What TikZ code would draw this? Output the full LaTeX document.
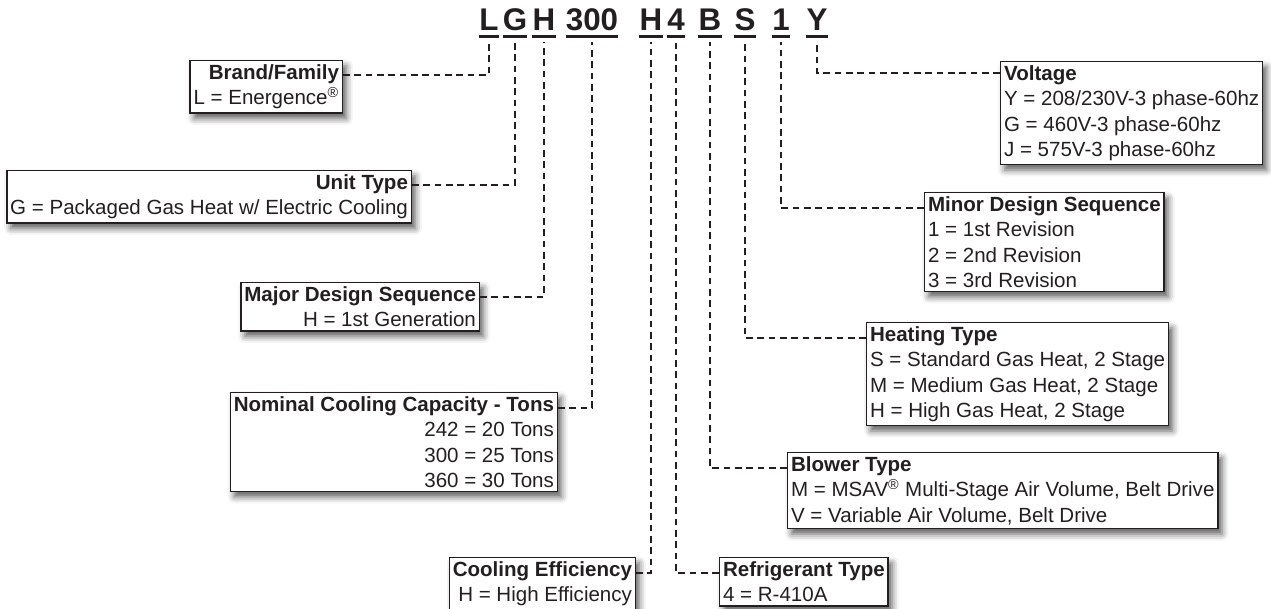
\documentclass[tikz,border=0pt]{standalone}
\usepackage{fontspec}
\setmainfont{Liberation Sans}
\usetikzlibrary{shadows.blur}
\definecolor{inkgray}{HTML}{231F20}
\tikzset{
	codechar/.style={font=\fontsize{23.5}{23.5}\selectfont\bfseries, text=inkgray, inner xsep=0pt, inner ysep=0pt, text depth=0pt, anchor=base},
	uline/.style={draw=inkgray, line width=2.2pt},
	infobox/.style={draw=inkgray, line width=1.1pt, fill=white, text=inkgray, font=\fontsize{15.4}{18.9}\selectfont, inner xsep=2.5pt, inner ysep=3pt,
		blur shadow={shadow xshift=3pt, shadow yshift=-4pt, shadow blur radius=5pt, shadow opacity=65}},
	leftbox/.style={infobox, align=right, anchor=north east},
	rightbox/.style={infobox, align=left, anchor=north west},
	dashline/.style={draw=inkgray, line width=1.6pt, dash pattern=on 5pt off 3.5pt, shorten >=9pt}}
\begin{document}
\begin{tikzpicture}[x=0.75pt,y=0.75pt,yscale=-1,xscale=1]
	\useasboundingbox (0,0) rectangle (1271,608);

	% Model number
	\foreach \nm/\x/\txt in {L/489/L, G/515/G, H/544/H, cap/592/300, eff/651/H, ref/676/4, blw/710/B, heat/745/S, minor/781/1, volt/817/Y}{
		\node[codechar] (c\nm) at (\x,30) {\txt};
		\draw[uline] ([yshift=5pt]c\nm.south west) -- ([yshift=5pt]c\nm.south east);
	}

	% Text Node
	\node[leftbox] (brand) at (343,60) {\textbf{Brand/Family}\\L = Energence\textsuperscript{®}};
	% Text Node
	\node[leftbox] (unit) at (412,170) {\textbf{Unit Type}\\G = Packaged Gas Heat w/ Electric Cooling};
	% Text Node
	\node[leftbox] (major) at (480,282) {\textbf{Major Design Sequence}\\H = 1st Generation};
	% Text Node
	\node[leftbox] (cap) at (558,392) {\textbf{Nominal Cooling Capacity - Tons}\\242 = 20 Tons\\300 = 25 Tons\\360 = 30 Tons};
	% Text Node
	\node[leftbox] (eff) at (636,557) {\textbf{Cooling Efficiency}\\H = High Efficiency};
	% Text Node
	\node[rightbox] (ref) at (719,557) {\textbf{Refrigerant Type}\\4 = R-410A};
	% Text Node
	\node[rightbox] (blw) at (787,452) {\textbf{Blower Type}\\M = MSAV\textsuperscript{®} Multi-Stage Air Volume, Belt Drive\\V = Variable Air Volume, Belt Drive};
	% Text Node
	\node[rightbox] (heat) at (866,322) {\textbf{Heating Type}\\S = Standard Gas Heat, 2 Stage\\M = Medium Gas Heat, 2 Stage\\H = High Gas Heat, 2 Stage};
	% Text Node
	\node[rightbox] (minor) at (924,192) {\textbf{Minor Design Sequence}\\1 = 1st Revision\\2 = 2nd Revision\\3 = 3rd Revision};
	% Text Node
	\node[rightbox] (volt) at (1000,61) {\textbf{Voltage}\\Y = 208/230V-3 phase-60hz\\G = 460V-3 phase-60hz\\J = 575V-3 phase-60hz};

	%Straight Lines
	\draw[dashline] ([yshift=11pt]brand.north east) -| (cL.south);
	\draw[dashline] ([yshift=11pt]unit.north east) -| (cG.south);
	\draw[dashline] ([yshift=11pt]major.north east) -| (cH.south);
	\draw[dashline] ([yshift=12pt]cap.north east) -| (ccap.south);
	\draw[dashline] ([yshift=12pt]eff.north east) -| (ceff.south);
	\draw[dashline] ([yshift=12pt]ref.north west) -| (cref.south);
	\draw[dashline] ([yshift=12pt]blw.north west) -| (cblw.south);
	\draw[dashline] ([yshift=12pt]heat.north west) -| (cheat.south);
	\draw[dashline] ([yshift=12pt]minor.north west) -| (cminor.south);
	\draw[dashline] ([yshift=9pt]volt.north west) -| (cvolt.south);
\end{tikzpicture}
\end{document}
